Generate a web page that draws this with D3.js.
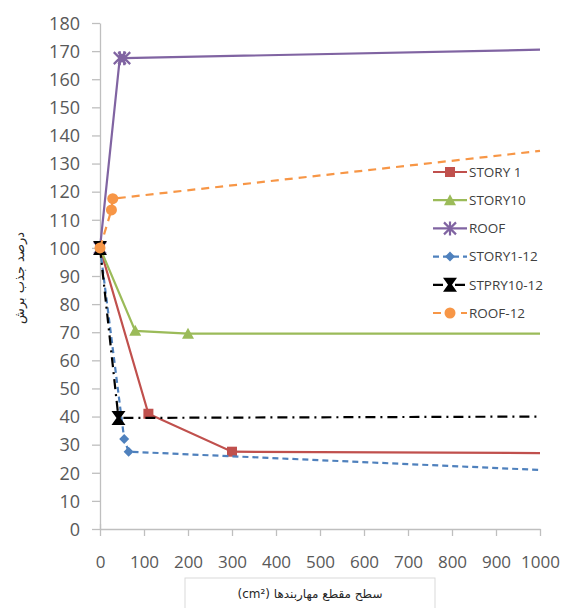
<!DOCTYPE html>
<html><head><meta charset="utf-8">
<script src="https://cdn.jsdelivr.net/npm/d3@7"></script>
<style>body{margin:0;background:#fff}svg{display:block}</style>
</head><body>
<script>
const xTicks = [0,100,200,300,400,500,600,700,800,900,1000];
const yTicks = [0,10,20,30,40,50,60,70,80,90,100,110,120,130,140,150,160,170,180];
const seriesNames = ["STORY 1","STORY10","ROOF","STORY1-12","STPRY10-12","ROOF-12"];
const story1X = [0,110,300,1000];   const story1Y = [100,41,27.5,27];
const story10X = [0,80,200,1000];   const story10Y = [100,70.5,69.5,69.5];
const roofX = [0,45,55,1000];       const roofY = [100,167.5,167.5,170.5];
const story112X = [0,55,65,1000];   const story112Y = [100,32,27.5,21];
const stpry1012X = [0,42,1000];     const stpry1012Y = [100,39.5,40];
const roof12X = [0,26,29,1000];     const roof12Y = [100,113.5,117.5,134.5];
const colors = ["#C0504D","#9BBB59","#8064A2","#4F81BD","#000000","#F79646"];
const yTitle = "درصد جذب برش";
const xTitle = "سطح مقطع مهاربندها (cm²)";

const W=564,H=608;
const svg=d3.select("body").append("svg").attr("width",W).attr("height",H);
const x=d3.scaleLinear().domain([0,1000]).range([100,540]);
const y=d3.scaleLinear().domain([0,180]).range([529,23]);

const axisColor="#bfbfbf", textColor="#595959";
const gx=svg.append("g").attr("transform","translate(0,529)").call(d3.axisBottom(x).tickValues(xTicks).tickFormat(d3.format("d")).tickSize(7).tickSizeOuter(0).tickPadding(20));
const gy=svg.append("g").attr("transform","translate(100,0)").call(d3.axisLeft(y).tickValues(yTicks).tickFormat(d3.format("d")).tickSize(8).tickSizeOuter(0).tickPadding(12));
[gx,gy].forEach(g=>{
  g.select(".domain").attr("stroke",axisColor).attr("stroke-width",1.3);
  g.selectAll(".tick line").attr("stroke",axisColor).attr("stroke-width",1.3);
  g.selectAll(".tick text").attr("fill",textColor).attr("font-family","'Open Sans',sans-serif");
});
gx.selectAll(".tick text").attr("font-size",17);
gy.selectAll(".tick text").attr("font-size",18).attr("dy","0.35em");
gx.select(".tick line").attr("y1",-5);

svg.append("text").attr("transform","translate(24,278) rotate(-90)")
  .attr("text-anchor","middle").attr("font-family","'DejaVu Sans',sans-serif")
  .attr("font-size",13).attr("fill","#262626").text(yTitle);
svg.append("rect").attr("x",185).attr("y",578).attr("width",250).attr("height",32)
  .attr("fill","#fff").attr("stroke","#d9d9d9");
svg.append("text").attr("x",310).attr("y",598).attr("text-anchor","middle")
  .attr("font-family","'DejaVu Sans',sans-serif").attr("font-size",12).attr("fill","#262626")
  .attr("direction","rtl").text(xTitle);

const series=[
  {xs:story1X,ys:story1Y,dash:null,marker:"square"},
  {xs:story10X,ys:story10Y,dash:null,marker:"triangle"},
  {xs:roofX,ys:roofY,dash:null,marker:"star"},
  {xs:story112X,ys:story112Y,dash:"6,4",marker:"diamond"},
  {xs:stpry1012X,ys:stpry1012Y,dash:"10,5,2,5",marker:"bowtie"},
  {xs:roof12X,ys:roof12Y,dash:"8,6",marker:"circle"}
];
const line=d3.line().x(d=>x(d[0])).y(d=>y(d[1]));

function marker(g,type,cx,cy,color){
  if(type==="square") g.append("rect").attr("x",cx-5).attr("y",cy-5).attr("width",10).attr("height",10).attr("fill",color);
  else if(type==="triangle") g.append("path").attr("d",`M${cx},${cy-6}L${cx+6},${cy+5}L${cx-6},${cy+5}Z`).attr("fill",color);
  else if(type==="diamond") g.append("path").attr("d",`M${cx},${cy-5}L${cx+5},${cy}L${cx},${cy+5}L${cx-5},${cy}Z`).attr("fill",color);
  else if(type==="circle") g.append("circle").attr("cx",cx).attr("cy",cy).attr("r",5.5).attr("fill",color);
  else if(type==="star") g.append("path").attr("d",`M${cx-6},${cy-6}L${cx+6},${cy+6}M${cx-6},${cy+6}L${cx+6},${cy-6}M${cx},${cy-7}L${cx},${cy+7}`).attr("stroke",color).attr("stroke-width",2.2).attr("fill","none");
  else if(type==="bowtie") g.append("path").attr("d",`M${cx-7},${cy-7}L${cx+7},${cy-7}L${cx+2},${cy}L${cx+7},${cy+7}L${cx-7},${cy+7}L${cx-2},${cy}Z`).attr("fill",color);
}

series.forEach((s,i)=>{
  const pts=s.xs.map((v,j)=>[v,s.ys[j]]);
  svg.append("path").datum(pts).attr("d",line).attr("fill","none")
    .attr("stroke",colors[i]).attr("stroke-width",2.2).attr("stroke-dasharray",s.dash);
  const g=svg.append("g");
  pts.slice(0,-1).forEach(p=>marker(g,s.marker,x(p[0]),y(p[1]),colors[i]));
});

const legY=d3.scaleLinear().domain([0,5]).range([172,313]);
seriesNames.forEach((n,i)=>{
  const ly=legY(i);
  svg.append("line").attr("x1",433).attr("x2",467).attr("y1",ly).attr("y2",ly)
    .attr("stroke",colors[i]).attr("stroke-width",2.2).attr("stroke-dasharray",series[i].dash);
  marker(svg.append("g"),series[i].marker,450,ly,colors[i]);
  svg.append("text").attr("x",469).attr("y",ly).attr("dy","0.35em")
    .attr("font-family","'Open Sans',sans-serif").attr("font-size",13.5).attr("fill","#404040").text(n);
});
</script>
</body></html>
